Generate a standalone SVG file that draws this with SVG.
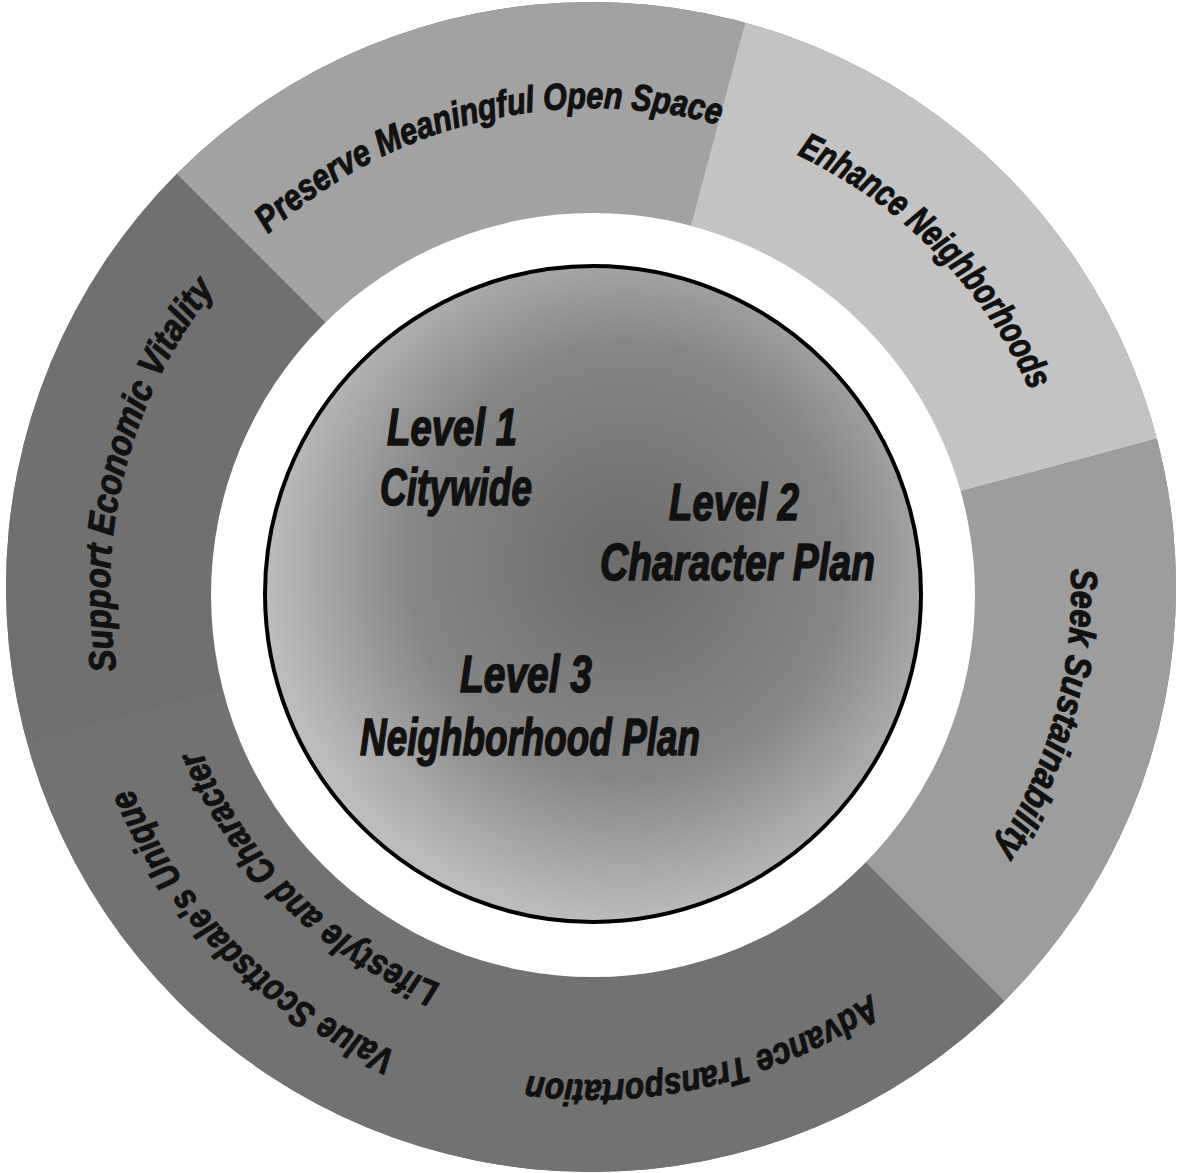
<svg xmlns="http://www.w3.org/2000/svg" xmlns:xlink="http://www.w3.org/1999/xlink" width="1178" height="1173" viewBox="0 0 1178 1173">
<style>
.seg{stroke:none}
.ring{font-family:"Liberation Sans","Arial",sans-serif;font-weight:bold;font-style:italic;font-size:37px;fill:#111;stroke:#111;stroke-width:1.1px}
.lvl{font-family:"Liberation Sans","Arial",sans-serif;font-weight:bold;font-style:italic;font-size:52px;fill:#111;stroke:#111;stroke-width:1.6px}
</style>
<defs>
<clipPath id="outer"><circle cx="591" cy="587" r="585"/></clipPath>
<radialGradient id="disk" cx="0.55" cy="0.45" r="0.55">
<stop offset="0" stop-color="#6c6c6c"/>
<stop offset="0.6" stop-color="#868686"/>
<stop offset="1" stop-color="#bcbcbc"/>
</radialGradient>
<path id="p-preserve" d="M116.4 662.1 A482 482 0 0 1 1049.8 436.3"/>
<path id="p-enhance" d="M285.7 220.0 A481 481 0 0 1 959.8 901.1"/>
<path id="p-seek" d="M758.1 141.4 A478 478 0 0 1 508.4 1060.5"/>
<path id="p-advance" d="M1077.9 519.3 A490 490 0 0 1 127.8 743.9"/>
<path id="p-value" d="M916.4 974.0 A502 502 0 0 1 207.9 268.0"/>
<path id="p-life" d="M870.2 914.5 A428 428 0 0 1 262.3 318.0"/>
<path id="p-support" d="M431.8 1045.3 A483 483 0 0 1 672.7 113.6"/>
</defs>
<rect width="1178" height="1173" fill="#ffffff"/>
<circle cx="591" cy="587" r="585" fill="#727272"/>
<g clip-path="url(#outer)">
<g id="support">
<path class="seg" fill="#707070" d="M593 590 L-5.9 750.5 A620 620 0 0 1 154.6 151.6 Z"/>
</g>
<g id="preserve">
<path class="seg" fill="#a2a2a2" d="M593 590 L154.6 151.6 A620 620 0 0 1 753.5 -8.9 Z"/>
</g>
<g id="enhance">
<path class="seg" fill="#c3c3c3" d="M593 590 L753.5 -8.9 A620 620 0 0 1 1191.9 429.5 Z"/>
</g>
<g id="seek">
<path class="seg" fill="#9d9d9d" d="M593 590 L1191.9 429.5 A620 620 0 0 1 1031.4 1028.4 Z"/>
</g>
<g id="advance">
<path class="seg" fill="#727272" d="M593 590 L1031.4 1028.4 A620 620 0 0 1 432.5 1188.9 Z"/>
</g>
<g id="value">
<path class="seg" fill="#727272" d="M593 590 L432.5 1188.9 A620 620 0 0 1 -5.9 750.5 Z"/>
</g>
</g>
<g id="ring-labels">
<text class="ring"><textPath href="#p-support" xlink:href="#p-support" startOffset="50%" text-anchor="middle" textLength="405" lengthAdjust="spacingAndGlyphs">Support Economic Vitality</textPath></text>
<text class="ring"><textPath href="#p-preserve" xlink:href="#p-preserve" startOffset="50%" text-anchor="middle" textLength="484" lengthAdjust="spacingAndGlyphs">Preserve Meaningful Open Space</textPath></text>
<text class="ring"><textPath href="#p-enhance" xlink:href="#p-enhance" startOffset="50%" text-anchor="middle" textLength="339" lengthAdjust="spacingAndGlyphs">Enhance Neighborhoods</textPath></text>
<text class="ring"><textPath href="#p-seek" xlink:href="#p-seek" startOffset="50%" text-anchor="middle" textLength="296" lengthAdjust="spacingAndGlyphs">Seek Sustainability</textPath></text>
<text class="ring"><textPath href="#p-advance" xlink:href="#p-advance" startOffset="50%" text-anchor="middle" textLength="361" lengthAdjust="spacingAndGlyphs">Advance Transportation</textPath></text>
<text class="ring"><textPath href="#p-value" xlink:href="#p-value" startOffset="50%" text-anchor="middle" textLength="383" lengthAdjust="spacingAndGlyphs">Value Scottsdale's Unique</textPath></text>
<text class="ring"><textPath href="#p-life" xlink:href="#p-life" startOffset="50%" text-anchor="middle" textLength="344" lengthAdjust="spacingAndGlyphs">Lifestyle  and Character</textPath></text>
</g>
<g id="hub">
<circle cx="593" cy="595" r="382" fill="#ffffff"/>
<circle cx="593" cy="594" r="328" fill="url(#disk)" stroke="#000" stroke-width="4"/>
</g>
<g id="level1">
<text class="lvl" x="387" y="445" textLength="130" lengthAdjust="spacingAndGlyphs">Level 1</text>
<text class="lvl" x="380" y="505" textLength="152" lengthAdjust="spacingAndGlyphs">Citywide</text>
</g>
<g id="level2">
<text class="lvl" x="669" y="520" textLength="130" lengthAdjust="spacingAndGlyphs">Level 2</text>
<text class="lvl" x="600" y="580" textLength="275" lengthAdjust="spacingAndGlyphs">Character Plan</text>
</g>
<g id="level3">
<text class="lvl" x="460" y="692" textLength="132" lengthAdjust="spacingAndGlyphs">Level 3</text>
<text class="lvl" x="360" y="755" textLength="340" lengthAdjust="spacingAndGlyphs">Neighborhood Plan</text>
</g>
<g id="connectors"/>
</svg>
